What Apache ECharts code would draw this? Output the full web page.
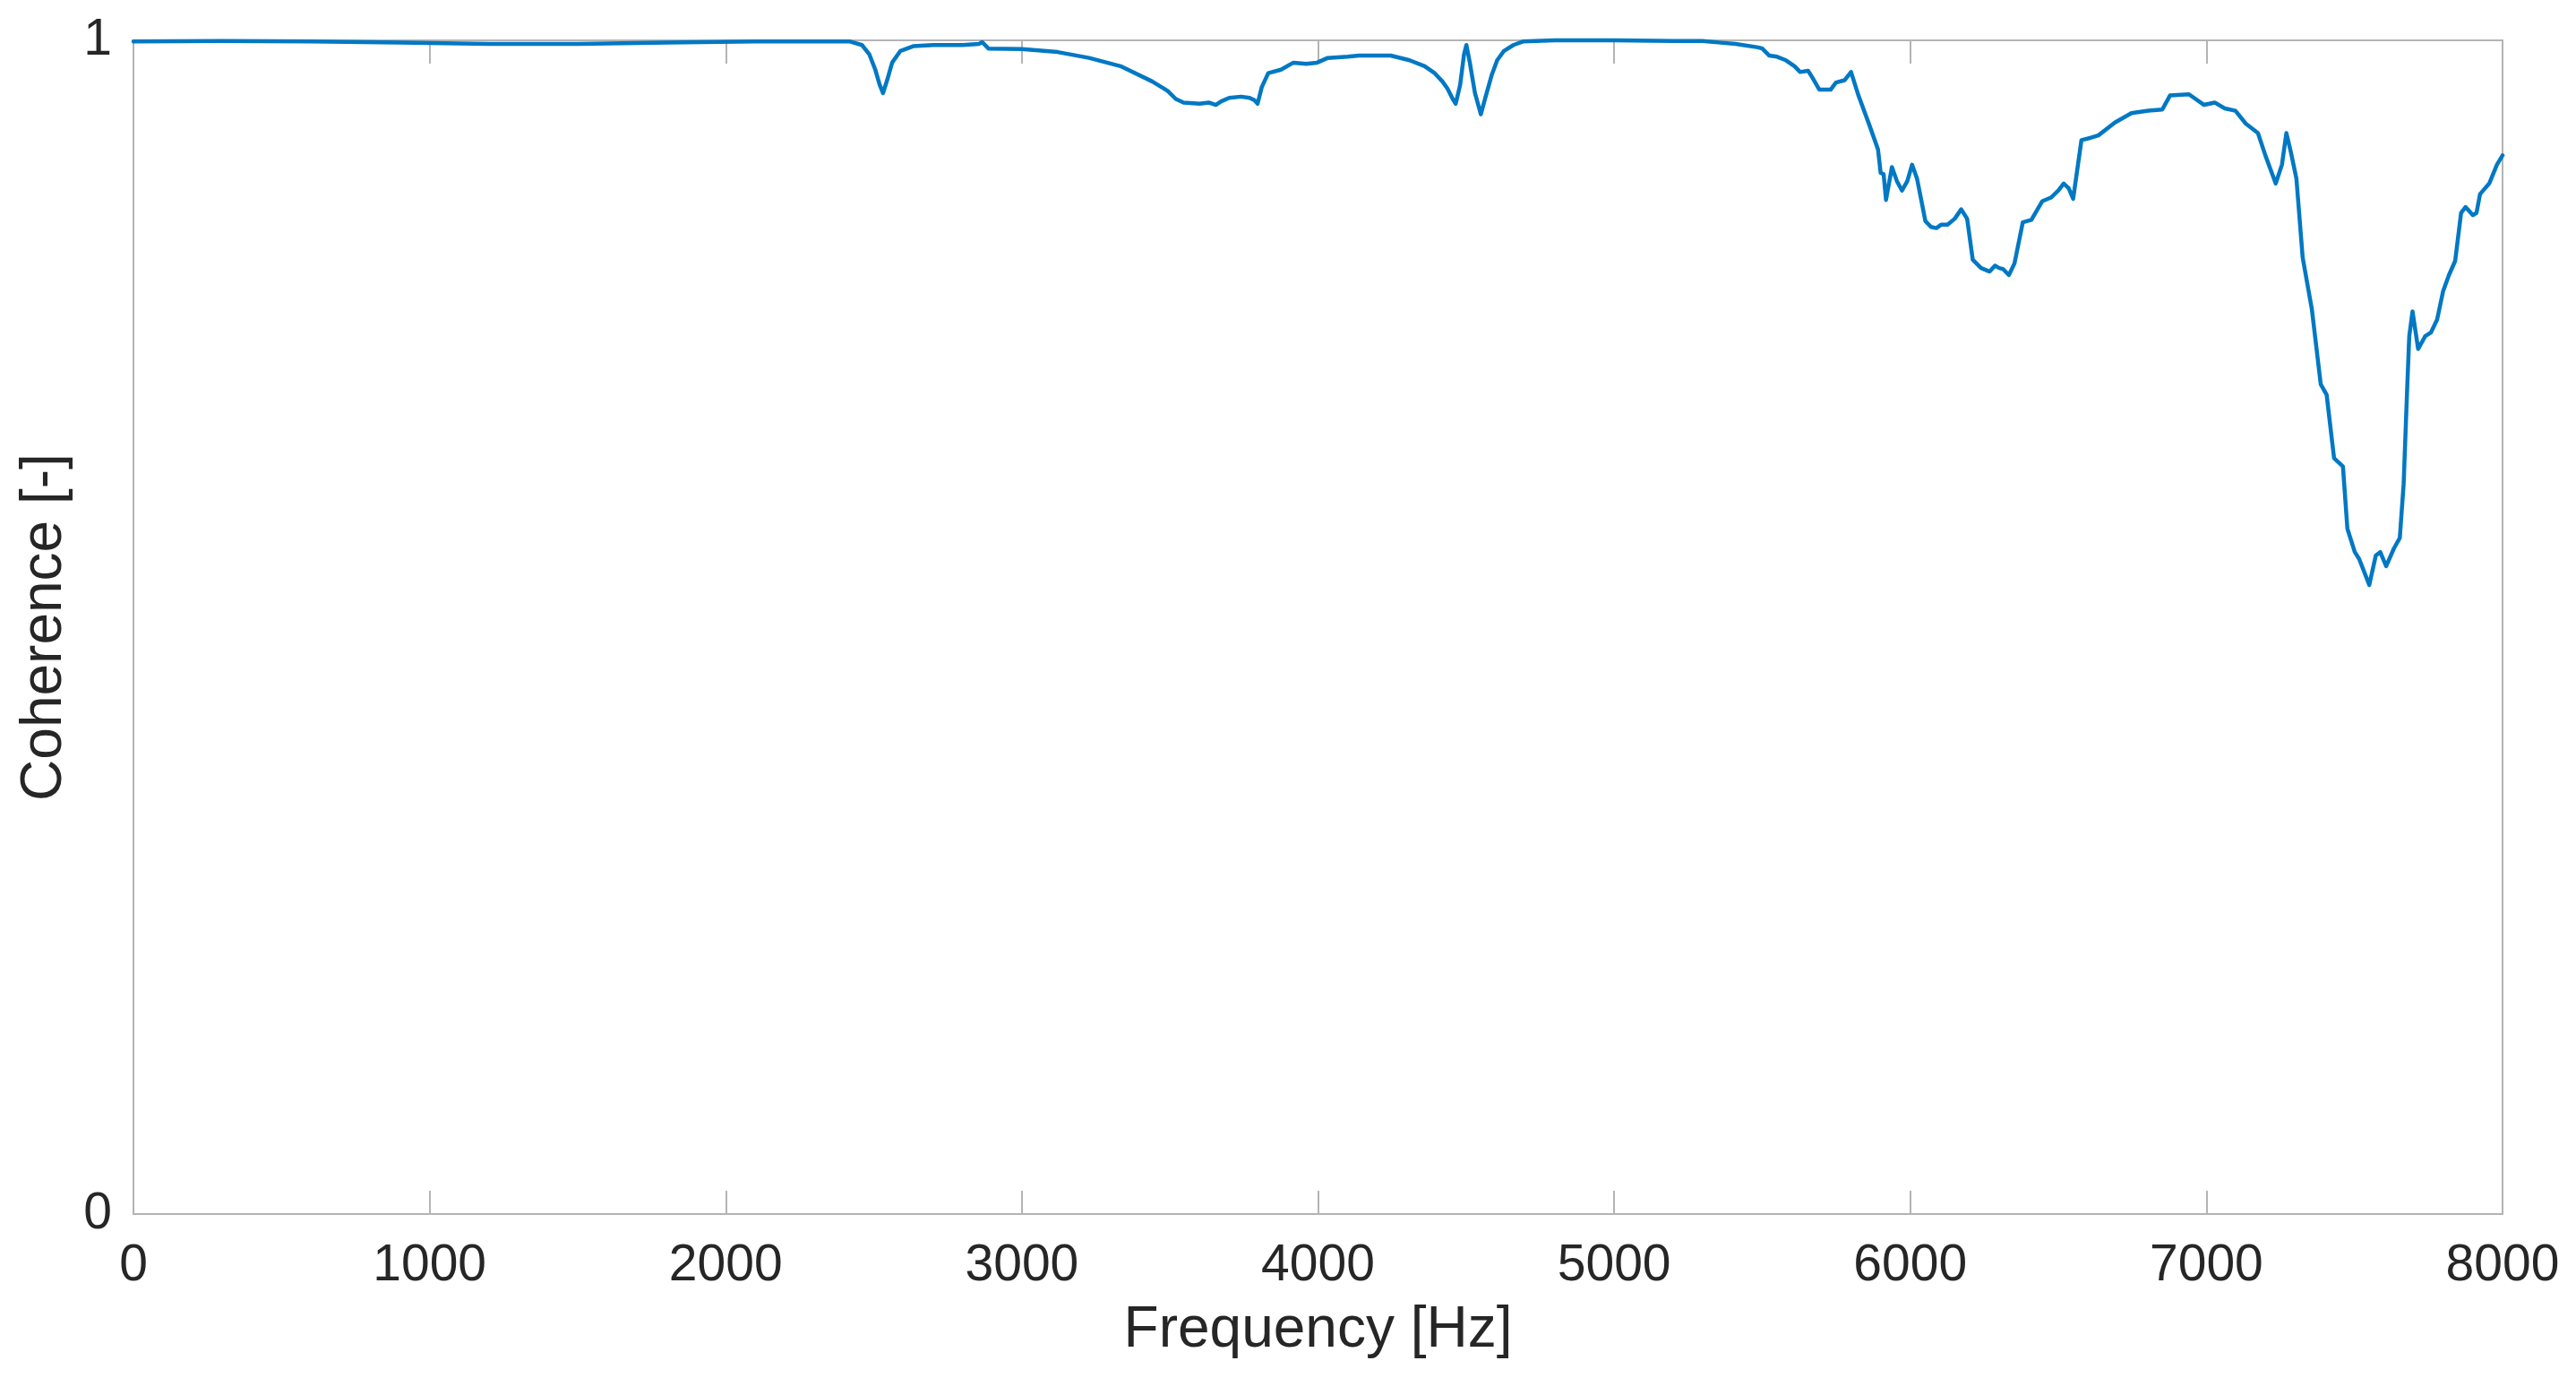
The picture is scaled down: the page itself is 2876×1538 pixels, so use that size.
<!DOCTYPE html>
<html>
<head>
<meta charset="utf-8">
<script src="https://cdn.jsdelivr.net/npm/echarts@6/dist/echarts.min.js"></script>
<style>
  html, body { margin: 0; padding: 0; background: #fff; }
  #chart { width: 2876px; height: 1538px; }
</style>
</head>
<body>
<div id="chart"></div>
<script>
// frequency [Hz]
const freq = [
  0, 300, 600, 900, 1200, 1500, 1800, 2100, 2420, 2460,
  2485, 2505, 2520, 2531, 2545, 2562, 2590, 2633, 2700, 2800,
  2856, 2866, 2887, 3000, 3121, 3227, 3333, 3440, 3492, 3520,
  3546, 3600, 3631, 3655, 3673, 3700, 3740, 3769, 3785, 3796,
  3810, 3832, 3875, 3917, 3960, 3997, 4033, 4100, 4139, 4245,
  4309, 4360, 4394, 4420, 4437, 4455, 4465, 4480, 4493, 4501,
  4512, 4530, 4550, 4565, 4586, 4605, 4628, 4660, 4692, 4800,
  5000, 5200, 5298, 5360, 5410, 5486, 5500, 5524, 5550, 5580,
  5609, 5628, 5655, 5670, 5693, 5731, 5749, 5778, 5800, 5825,
  5863, 5891, 5900, 5910, 5918, 5938, 5955, 5972, 5990, 6006,
  6023, 6051, 6070, 6088, 6105, 6126, 6150, 6172, 6192, 6211,
  6239, 6268, 6286, 6300, 6314, 6333, 6352, 6380, 6409, 6446,
  6475, 6500, 6518, 6535, 6550, 6578, 6610, 6635, 6691, 6747,
  6804, 6851, 6877, 6941, 6992, 7028, 7062, 7098, 7133, 7174,
  7199, 7234, 7255, 7270, 7285, 7304, 7325, 7356, 7386, 7406,
  7431, 7461, 7476, 7501, 7516, 7550, 7572, 7587, 7607, 7633,
  7653, 7666, 7678, 7685, 7696, 7715, 7739, 7758, 7779, 7799,
  7819, 7840, 7860, 7875, 7900, 7912, 7924, 7955, 7981, 8000
];

// coherence [-]
const coherence = [
  0.999, 0.9995, 0.999, 0.998, 0.997, 0.997, 0.998, 0.999, 0.999, 0.996,
  0.988, 0.975, 0.962, 0.955, 0.966, 0.981, 0.991, 0.995, 0.996, 0.996,
  0.997, 0.9985, 0.993, 0.9925, 0.990, 0.985, 0.978, 0.965, 0.957, 0.950,
  0.947, 0.946, 0.947, 0.945, 0.948, 0.951, 0.952, 0.951, 0.949, 0.946,
  0.960, 0.972, 0.975, 0.981, 0.980, 0.981, 0.985, 0.986, 0.987, 0.987,
  0.983, 0.978, 0.972, 0.965, 0.959, 0.950, 0.946, 0.962, 0.988, 0.996,
  0.982, 0.955, 0.937, 0.951, 0.970, 0.983, 0.991, 0.996, 0.999, 1.0,
  1.0, 0.9995, 0.9995, 0.998, 0.997, 0.994, 0.993, 0.987, 0.986, 0.983,
  0.978, 0.973, 0.974, 0.968, 0.958, 0.958, 0.964, 0.966, 0.973, 0.953,
  0.927, 0.907, 0.887, 0.886, 0.864, 0.892, 0.880, 0.872, 0.880, 0.894,
  0.882, 0.846, 0.841, 0.840, 0.843, 0.843, 0.848, 0.856, 0.848, 0.813,
  0.806, 0.803, 0.808, 0.806, 0.805, 0.800, 0.810, 0.845, 0.847, 0.863,
  0.866, 0.872, 0.878, 0.874, 0.865, 0.915, 0.917, 0.919, 0.930, 0.938,
  0.940, 0.941, 0.953, 0.954, 0.945, 0.947, 0.942, 0.940, 0.929, 0.921,
  0.902, 0.878, 0.894, 0.921, 0.905, 0.882, 0.815, 0.771, 0.707, 0.698,
  0.644, 0.637, 0.584, 0.564, 0.558, 0.536, 0.561, 0.564, 0.552, 0.567,
  0.576, 0.622, 0.704, 0.748, 0.769, 0.737, 0.748, 0.751, 0.762, 0.786,
  0.800, 0.812, 0.853, 0.858, 0.851, 0.853, 0.869, 0.878, 0.894, 0.902
];

const xTicks = [0, 1000, 2000, 3000, 4000, 5000, 6000, 7000, 8000];
const yTicks = [0, 1];

const axisGray = '#b4b4b4';
const textColor = '#262626';
const font = 'Liberation Sans, Helvetica, Arial, sans-serif';

const points = freq.map((f, i) => [f, coherence[i]]);

const chart = echarts.init(document.getElementById('chart'));

const option = {
  animation: false,
  backgroundColor: '#ffffff',
  grid: { left: 149, right: 82, top: 45, bottom: 183, containLabel: false },
  xAxis: [
    {
      type: 'value',
      position: 'bottom',
      min: xTicks[0],
      max: xTicks[xTicks.length - 1],
      interval: 1000,
      name: 'Frequency [Hz]',
      nameLocation: 'middle',
      nameGap: 98,
      nameTextStyle: { fontFamily: font, fontSize: 64, color: textColor },
      axisLine: { show: true, onZero: false, lineStyle: { color: axisGray, width: 2 } },
      axisTick: { show: true, inside: true, length: 26, lineStyle: { color: axisGray, width: 2 } },
      axisLabel: {
        fontFamily: font, fontSize: 57, color: textColor, margin: 30,
        formatter: v => String(v)
      },
      splitLine: { show: false }
    },
    {
      type: 'value',
      position: 'top',
      min: xTicks[0],
      max: xTicks[xTicks.length - 1],
      interval: 1000,
      axisLine: { show: true, onZero: false, lineStyle: { color: axisGray, width: 2 } },
      axisTick: { show: true, inside: true, length: 26, lineStyle: { color: axisGray, width: 2 } },
      axisLabel: { show: false },
      splitLine: { show: false }
    }
  ],
  yAxis: [
    {
      type: 'value',
      position: 'left',
      min: yTicks[0],
      max: yTicks[1],
      interval: 1,
      name: 'Coherence [-]',
      nameLocation: 'middle',
      nameGap: 66,
      nameTextStyle: { fontFamily: font, fontSize: 64, color: textColor },
      axisLine: { show: true, onZero: false, lineStyle: { color: axisGray, width: 2 } },
      axisTick: { show: false },
      axisLabel: { fontFamily: font, fontSize: 57, color: textColor, margin: 24 },
      splitLine: { show: false }
    },
    {
      type: 'value',
      position: 'right',
      min: yTicks[0],
      max: yTicks[1],
      interval: 1,
      axisLine: { show: true, onZero: false, lineStyle: { color: axisGray, width: 2 } },
      axisTick: { show: false },
      axisLabel: { show: false },
      splitLine: { show: false }
    }
  ],
  series: [
    {
      type: 'line',
      data: points,
      xAxisIndex: 0,
      yAxisIndex: 0,
      showSymbol: false,
      smooth: false,
      clip: false,
      lineStyle: { color: '#0078C4', width: 4.5, join: 'round', cap: 'round' },
      z: 5
    }
  ]
};

chart.setOption(option);
</script>
</body>
</html>
